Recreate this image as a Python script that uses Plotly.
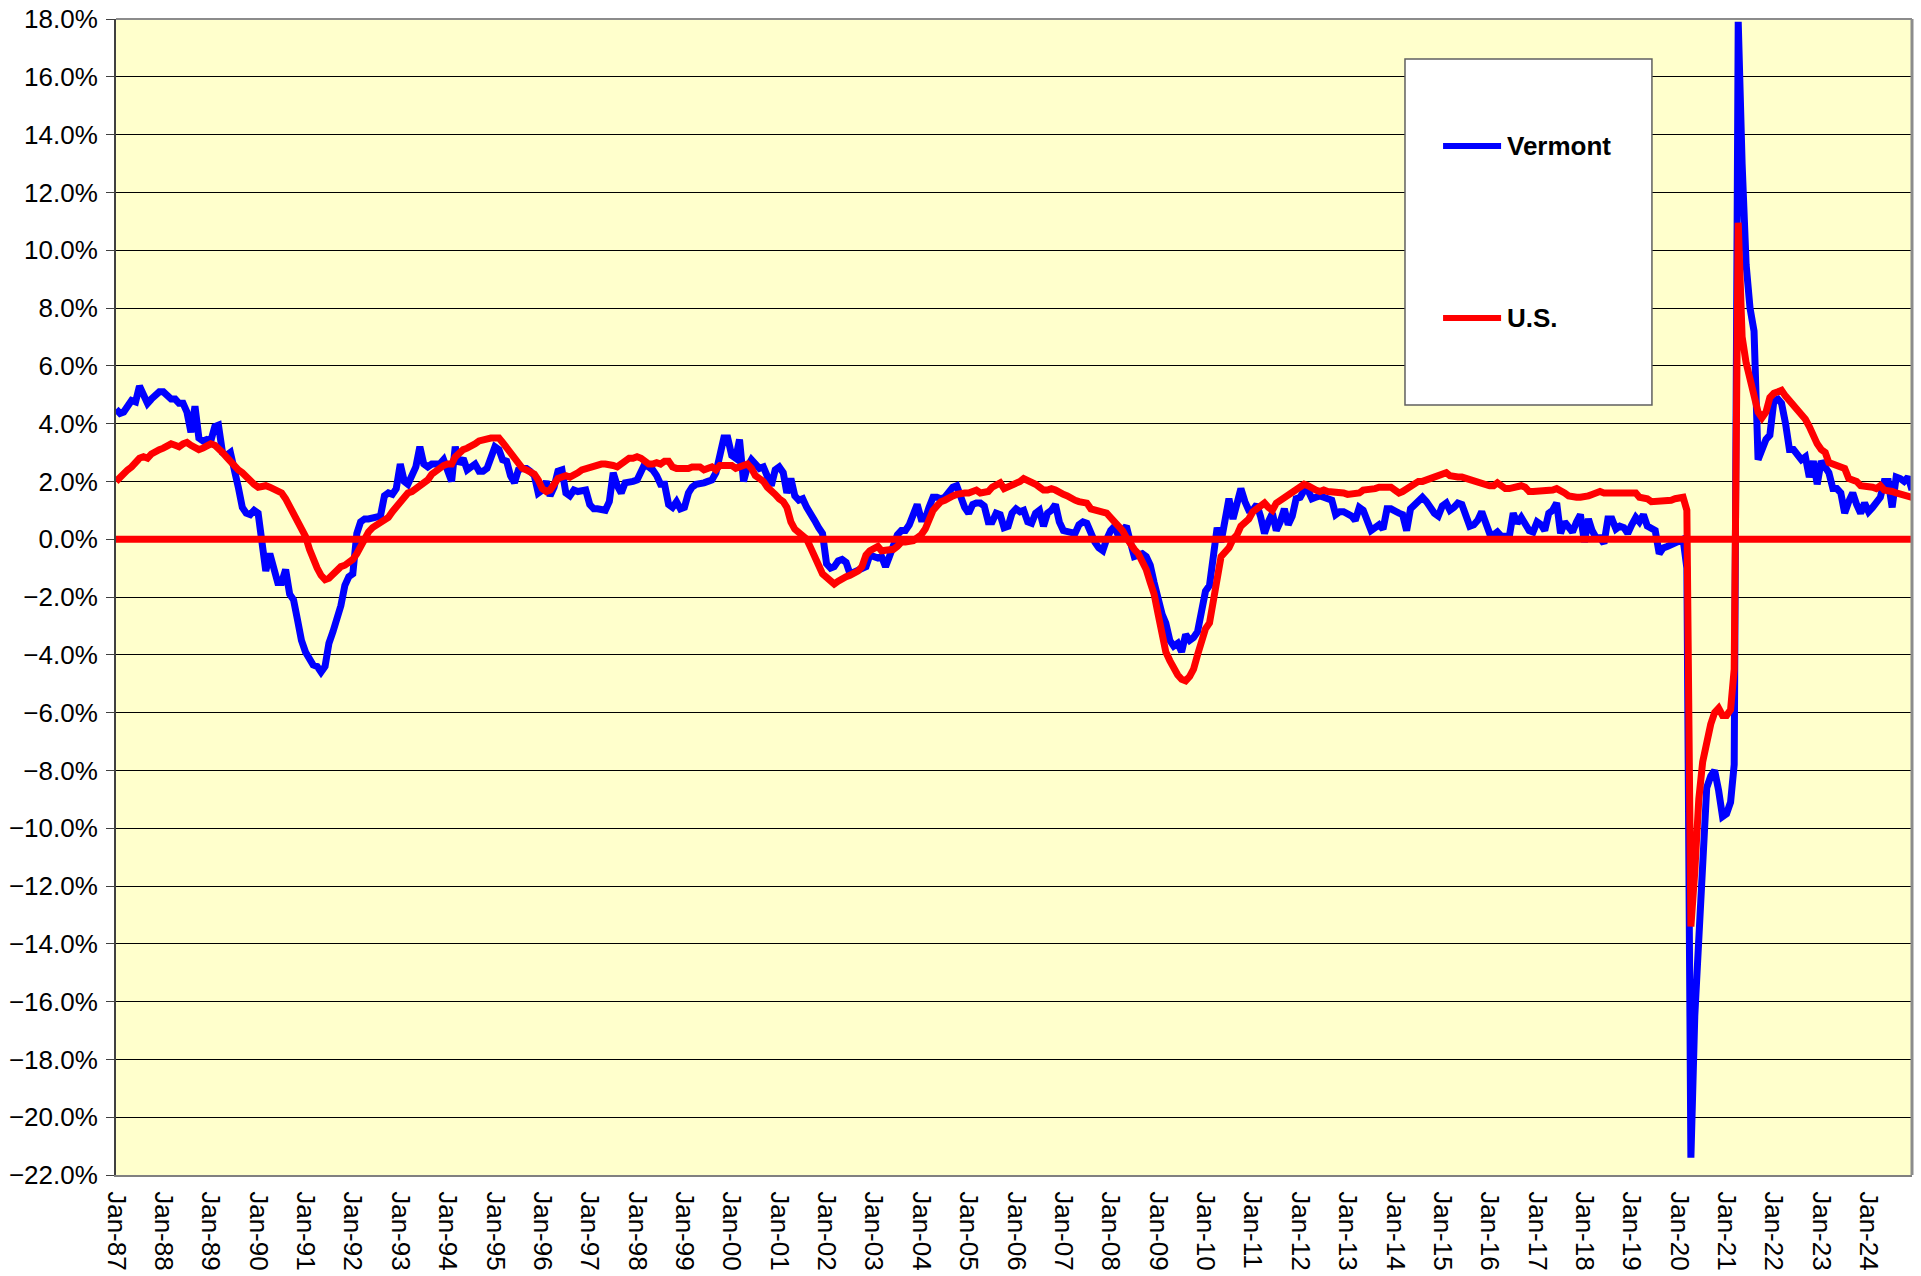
import pandas as pd
import plotly.graph_objects as go

# ---------------- data (year-over-year % change, monthly Jan-87 .. Dec-24) ----------------
start_month = "1987-01-01"

vermont = [
    4.5, 4.35, 4.4, 4.6, 4.8, 4.75, 5.3, 5.0, 4.7, 4.85, 5.0, 5.1,            # 1987
    5.1, 5.0, 4.85, 4.85, 4.7, 4.7, 4.4, 3.7, 4.6, 3.5, 3.4, 3.45,            # 1988
    3.4, 3.9, 3.95, 3.0, 2.9, 3.0, 2.5, 1.8, 1.1, 0.9, 0.85, 1.0,             # 1989
    0.9, -0.3, -1.1, -0.5, -1.1, -1.5, -1.5, -1.05, -1.9, -2.1, -2.8, -3.5,   # 1990
    -3.9, -4.2, -4.35, -4.4, -4.6, -4.4, -3.6, -3.2, -2.8, -2.3, -1.6, -1.3,  # 1991
    -1.2, 0.2, 0.6, 0.7, 0.7, 0.75, 0.8, 0.8, 1.5, 1.6, 1.55, 1.75,           # 1992
    2.6, 2.0, 1.9, 2.2, 2.5, 3.2, 2.6, 2.5, 2.6, 2.6, 2.6, 2.75,              # 1993
    2.3, 2.0, 3.2, 2.6, 2.8, 2.4, 2.5, 2.6, 2.35, 2.35, 2.45, 2.8,            # 1994
    3.2, 3.1, 2.75, 2.7, 2.2, 1.95, 2.4, 2.45, 2.45, 2.35, 2.2, 1.6,          # 1995
    1.7, 2.0, 1.5, 1.8, 2.35, 2.4, 1.6, 1.5, 1.7, 1.65, 1.7, 1.7,             # 1996
    1.2, 1.05, 1.05, 1.05, 1.0, 1.3, 2.3, 1.85, 1.6, 1.95, 1.95, 2.0,         # 1997
    2.05, 2.3, 2.6, 2.5, 2.4, 2.2, 1.9, 1.9, 1.2, 1.1, 1.3, 1.05,             # 1998
    1.1, 1.6, 1.8, 1.9, 1.9, 1.95, 2.0, 2.05, 2.3, 2.8, 3.5, 3.5,             # 1999
    2.9, 2.8, 3.45, 2.0, 2.5, 2.75, 2.55, 2.45, 2.5, 2.2, 1.85, 2.4,          # 2000
    2.5, 2.3, 1.6, 2.1, 1.5, 1.35, 1.4, 1.1, 0.9, 0.65, 0.4, 0.2,             # 2001
    -0.85, -1.0, -0.95, -0.75, -0.7, -0.8, -1.2, -1.15, -1.05, -1.0, -0.95, -0.55,  # 2002
    -0.6, -0.65, -0.6, -0.95, -0.6, -0.2, 0.15, 0.3, 0.3, 0.5, 0.9, 1.2,      # 2003
    0.7, 0.7, 1.1, 1.45, 1.45, 1.4, 1.45, 1.6, 1.8, 1.85, 1.4, 1.1,           # 2004
    0.9, 1.2, 1.25, 1.25, 1.15, 0.6, 0.6, 0.9, 0.85, 0.4, 0.45, 0.9,          # 2005
    1.05, 0.95, 1.0, 0.6, 0.55, 0.9, 1.0, 0.45, 0.9, 1.0, 1.2, 0.6,           # 2006
    0.3, 0.25, 0.2, 0.2, 0.5, 0.6, 0.55, 0.2, -0.1, -0.3, -0.4, 0.0,          # 2007
    0.3, 0.45, 0.1, 0.3, 0.45, -0.1, -0.6, -0.55, -0.5, -0.6, -0.9, -1.5,     # 2008
    -2.1, -2.6, -2.9, -3.5, -3.7, -3.6, -3.9, -3.3, -3.5, -3.4, -3.2, -2.6,   # 2009
    -1.8, -1.6, -0.7, 0.4, -0.1, 0.6, 1.4, 0.7, 1.3, 1.75, 1.3, 1.0,          # 2010
    1.0, 1.2, 0.8, 0.2, 0.6, 0.9, 0.3, 0.6, 1.05, 0.5, 0.8, 1.4,              # 2011
    1.45, 1.7, 1.7, 1.4, 1.45, 1.5, 1.45, 1.4, 1.35, 0.85, 0.95, 0.95,        # 2012
    0.9, 0.8, 0.65, 1.1, 1.0, 0.7, 0.3, 0.4, 0.5, 0.35, 1.05, 1.05,           # 2013
    0.95, 0.9, 0.85, 0.3, 1.05, 1.2, 1.3, 1.45, 1.3, 1.05, 0.9, 0.8,          # 2014
    1.15, 1.25, 1.0, 1.1, 1.25, 1.2, 0.9, 0.45, 0.5, 0.65, 0.95, 0.6,         # 2015
    0.2, 0.15, 0.25, 0.1, 0.1, 0.1, 0.9, 0.55, 0.75, 0.5, 0.3, 0.25,          # 2016
    0.6, 0.5, 0.3, 0.9, 1.0, 1.25, 0.2, 0.6, 0.4, 0.25, 0.6, 0.85,            # 2017
    -0.1, 0.7, 0.3, 0.05, 0.05, -0.15, 0.7, 0.7, 0.35, 0.45, 0.4, 0.2,        # 2018
    0.5, 0.75, 0.6, 0.85, 0.45, 0.4, 0.3, -0.5, -0.3, -0.25, -0.2, -0.15,     # 2019
    -0.1, 0.0, -1.0, -21.4, -16.5, -13.5, -11.0, -8.6, -8.2, -8.0, -8.7, -9.6,  # 2020
    -9.5, -9.1, -7.8, 17.9, 13.0, 9.5, 8.0, 7.2, 2.75, 3.1, 3.45, 3.6,        # 2021
    4.8, 4.85, 4.7, 4.0, 3.1, 3.1, 2.95, 2.75, 2.85, 2.15, 2.7, 1.9,          # 2022
    2.7, 2.5, 2.3, 1.75, 1.75, 1.6, 0.9, 1.3, 1.6, 1.2, 0.9, 1.25,            # 2023
    0.95, 1.1, 1.25, 1.45, 2.0, 2.0, 1.1, 2.15, 2.1, 2.0, 2.15, 1.7,          # 2024
]

us = [
    2.0, 2.15, 2.3, 2.4, 2.5, 2.7, 2.8, 2.85, 2.8, 2.95, 3.05, 3.1,           # 1987
    3.15, 3.2, 3.3, 3.25, 3.2, 3.3, 3.35, 3.25, 3.2, 3.1, 3.15, 3.2,          # 1988
    3.3, 3.25, 3.15, 3.0, 2.85, 2.7, 2.5, 2.4, 2.3, 2.15, 2.05, 1.9,          # 1989
    1.8, 1.85, 1.85, 1.8, 1.75, 1.7, 1.6, 1.4, 1.15, 0.95, 0.7, 0.45,         # 1990
    0.1, -0.35, -0.7, -1.0, -1.25, -1.4, -1.35, -1.2, -1.05, -0.95, -0.9, -0.8,  # 1991
    -0.7, -0.5, -0.25, 0.0, 0.25, 0.4, 0.5, 0.55, 0.65, 0.75, 0.95, 1.1,      # 1992
    1.3, 1.5, 1.6, 1.65, 1.75, 1.9, 2.0, 2.05, 2.25, 2.35, 2.5, 2.55,         # 1993
    2.6, 2.6, 2.85, 3.0, 3.1, 3.15, 3.2, 3.3, 3.4, 3.45, 3.5, 3.5,            # 1994
    3.5, 3.5, 3.35, 3.15, 2.95, 2.75, 2.55, 2.45, 2.4, 2.35, 2.25, 2.05,      # 1995
    1.75, 1.65, 1.7, 1.9, 2.1, 2.15, 2.2, 2.15, 2.2, 2.3, 2.4, 2.45,          # 1996
    2.5, 2.5, 2.55, 2.6, 2.6, 2.6, 2.55, 2.5, 2.6, 2.7, 2.8, 2.8,             # 1997
    2.85, 2.8, 2.7, 2.6, 2.6, 2.65, 2.6, 2.7, 2.7, 2.5, 2.45, 2.45,           # 1998
    2.4, 2.45, 2.5, 2.5, 2.5, 2.4, 2.45, 2.5, 2.4, 2.55, 2.55, 2.55,          # 1999
    2.55, 2.45, 2.5, 2.6, 2.6, 2.45, 2.2, 2.1, 2.0, 1.8, 1.7, 1.55,           # 2000
    1.4, 1.3, 1.1, 0.6, 0.35, 0.25, 0.15, 0.0, -0.3, -0.55, -0.9, -1.2,       # 2001
    -1.35, -1.5, -1.55, -1.45, -1.35, -1.3, -1.25, -1.2, -1.1, -0.95, -0.55, -0.4,  # 2002
    -0.3, -0.25, -0.4, -0.4, -0.4, -0.35, -0.25, -0.1, -0.1, -0.1, -0.05, 0.05,     # 2003
    0.15, 0.35, 0.75, 1.0, 1.15, 1.3, 1.35, 1.45, 1.5, 1.55, 1.6, 1.6,        # 2004
    1.6, 1.65, 1.7, 1.6, 1.6, 1.65, 1.8, 1.9, 1.95, 1.75, 1.8, 1.9,           # 2005
    1.95, 2.0, 2.1, 2.05, 2.0, 1.9, 1.8, 1.7, 1.7, 1.75, 1.7, 1.6,            # 2006
    1.55, 1.5, 1.4, 1.35, 1.3, 1.3, 1.25, 1.05, 1.0, 1.0, 0.95, 0.9,          # 2007
    0.75, 0.6, 0.5, 0.3, 0.05, -0.2, -0.35, -0.5, -0.8, -1.05, -1.5, -1.9,    # 2008
    -2.6, -3.3, -3.9, -4.2, -4.5, -4.7, -4.85, -4.9, -4.75, -4.5, -4.0, -3.6, # 2009
    -3.1, -2.9, -2.1, -1.2, -0.6, -0.45, -0.3, 0.0, 0.15, 0.45, 0.55, 0.7,    # 2010
    0.95, 1.05, 1.15, 1.25, 1.1, 1.0, 1.25, 1.35, 1.45, 1.55, 1.6, 1.7,       # 2011
    1.85, 1.9, 1.85, 1.75, 1.7, 1.65, 1.7, 1.65, 1.65, 1.6, 1.6, 1.6,         # 2012
    1.55, 1.55, 1.55, 1.6, 1.7, 1.7, 1.75, 1.75, 1.8, 1.8, 1.85, 1.8,         # 2013
    1.7, 1.6, 1.65, 1.75, 1.85, 1.9, 2.0, 2.0, 2.05, 2.05, 2.1, 2.2,          # 2014
    2.25, 2.3, 2.2, 2.15, 2.15, 2.15, 2.1, 2.05, 2.0, 2.0, 1.95, 1.9,         # 2015
    1.85, 1.85, 1.95, 1.85, 1.75, 1.75, 1.8, 1.8, 1.85, 1.8, 1.65, 1.65,      # 2016
    1.65, 1.65, 1.65, 1.7, 1.7, 1.75, 1.7, 1.6, 1.5, 1.45, 1.45, 1.45,        # 2017
    1.45, 1.5, 1.55, 1.6, 1.65, 1.6, 1.6, 1.6, 1.65, 1.65, 1.65, 1.6,         # 2018
    1.6, 1.6, 1.45, 1.45, 1.4, 1.3, 1.3, 1.3, 1.3, 1.35, 1.35, 1.4,           # 2019
    1.4, 1.45, 1.0, -13.4, -11.5, -9.0, -7.7, -7.0, -6.4, -6.0, -5.85, -6.1,  # 2020
    -6.1, -5.9, -4.5, 10.95, 7.0, 6.1, 5.6, 5.0, 4.4, 4.2, 4.4, 4.9,          # 2021
    5.05, 5.1, 5.15, 4.95, 4.8, 4.65, 4.45, 4.3, 4.15, 3.9, 3.55, 3.3,        # 2022
    3.1, 3.0, 2.65, 2.6, 2.55, 2.5, 2.45, 2.1, 2.05, 2.0, 1.85, 1.85,         # 2023
    1.8, 1.8, 1.75, 1.85, 1.7, 1.7, 1.65, 1.6, 1.55, 1.55, 1.45, 1.45,        # 2024
]

series_names = ["Vermont", "U.S."]
series_colors = ["#0000FF", "#FF0000"]

y_min, y_max, y_step = -22, 18, 2

# ---------------- figure ----------------
dates = pd.date_range(start_month, periods=len(vermont), freq="MS")

FONT = "Arial, 'Liberation Sans', sans-serif"

fig = go.Figure()
for name, vals, col in zip(series_names, [vermont, us], series_colors):
    fig.add_trace(go.Scatter(
        x=dates, y=vals, mode="lines", name=name,
        line=dict(color=col, width=7),
        showlegend=False,
    ))

fig.update_layout(
    width=1921, height=1276,
    margin=dict(l=116, r=9, t=19, b=101, autoexpand=False),
    paper_bgcolor="white",
    plot_bgcolor="#FFFFCC",
    font=dict(family=FONT, size=26, color="black"),
    showlegend=False,
)

fig.update_xaxes(
    type="date",
    range=[dates[0], dates[-1]],
    tick0=start_month, dtick="M12", tickformat="%b-%y",
    tickangle=90,
    showgrid=False, zeroline=False,
    showline=True, linecolor="#808080", linewidth=2,
    ticks="", ticklabelstandoff=9, automargin=False,
    ticklabeloverflow="allow",
    tickfont=dict(family=FONT, size=26, color="black"),
)
fig.update_yaxes(
    range=[y_min, y_max], tick0=0, dtick=y_step,
    tickformat=".1f", ticksuffix="%",
    showgrid=True, gridcolor="#000000", gridwidth=1,
    zeroline=False,
    showline=True, linecolor="#404040", linewidth=2,
    ticks="outside", ticklen=8, tickcolor="#404040", tickwidth=1,
    ticklabelstandoff=3, automargin=False,
    ticklabeloverflow="allow",
    tickfont=dict(family=FONT, size=26, color="black"),
)

shapes = [
    # zero reference line
    dict(type="line", xref="paper", yref="y", x0=0, x1=1, y0=0, y1=0,
         line=dict(color="#FF0000", width=7), layer="above"),
    # top / right plot border
    dict(type="line", xref="paper", yref="paper", x0=0, x1=1, y0=1, y1=1,
         line=dict(color="#8c8c8c", width=2), layer="above"),
    dict(type="line", xref="paper", yref="paper", x0=1, x1=1, y0=0, y1=1,
         line=dict(color="#8c8c8c", width=3), layer="above"),
    # legend box
    dict(type="rect", xref="paper", yref="paper", x0=0.7177, x1=0.8552, y0=0.6661, y1=0.9654,
         fillcolor="white", line=dict(color="#606060", width=1.5), layer="above"),
]
legend_y = [0.8901, 0.7414]
annotations = []
for name, col, ly in zip(series_names, series_colors, legend_y):
    shapes.append(dict(type="line", xref="paper", yref="paper", x0=0.7389, x1=0.7712, y0=ly, y1=ly,
                       line=dict(color=col, width=6), layer="above"))
    annotations.append(dict(xref="paper", yref="paper", x=0.7735, y=ly, text=f"<b>{name}</b>",
                            showarrow=False, xanchor="left", yanchor="middle",
                            font=dict(family=FONT, size=26, color="black")))

fig.update_layout(shapes=shapes, annotations=annotations)

# remove the default page margin so the figure fills the window exactly
fig.write_html("out.html", config={"displayModeBar": False},
               post_script="document.body.style.margin='0px';")
